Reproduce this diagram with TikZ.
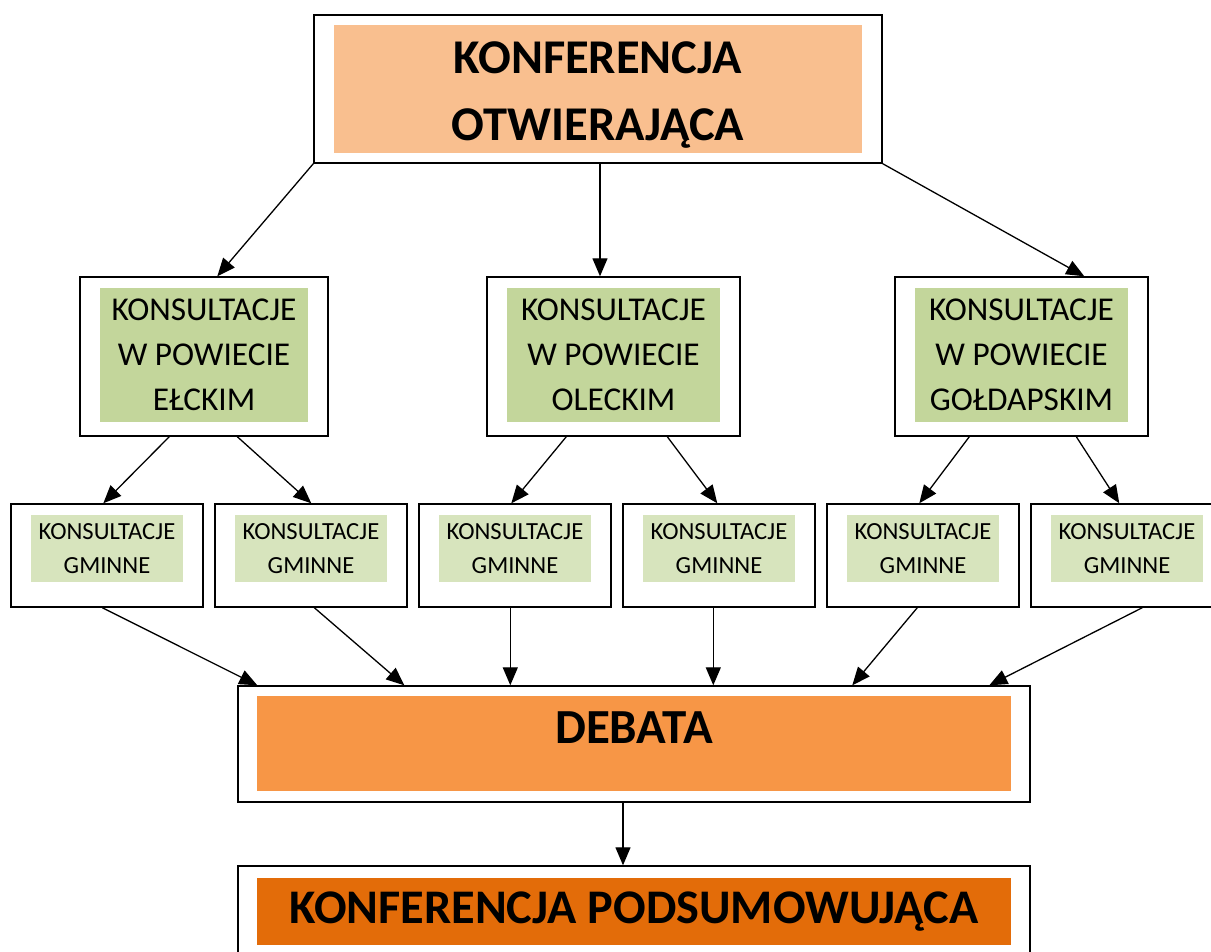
\documentclass[tikz,border=0pt]{standalone}
\usepackage{fontspec}
\setmainfont{Carlito}
\usetikzlibrary{arrows.meta}

\definecolor{topfill}{HTML}{F9BF8F}
\definecolor{powiatfill}{HTML}{C3D69B}
\definecolor{gminafill}{HTML}{D7E4BD}
\definecolor{debatafill}{HTML}{F79646}
\definecolor{finalfill}{HTML}{E36C09}

\tikzset{
    frame/.style={draw, line width=1.4pt, inner sep=0pt},
    powiat/.style={fill=powiatfill, inner sep=0pt, minimum height=134pt, align=center,
        font=\fontsize{33.3}{45}\selectfont},
    gmina/.style={fill=gminafill, inner sep=0pt, minimum width=152pt, minimum height=67pt,
        align=center, font=\fontsize{24.6}{34}\selectfont},
    link/.style={-{Triangle[length=18pt,width=15pt]}, line width=1.3pt}
}

\begin{document}
\begin{tikzpicture}[x=1pt,y=-1pt]
        \useasboundingbox (0,0) rectangle (1211,952);

        \node[frame, minimum width=568pt, minimum height=148pt] (top) at (598, 89) {};
        \node[fill=topfill, inner sep=0pt, minimum width=528pt, minimum height=128pt] (topbg) at (598, 89) {};
        \node[align=center, font=\fontsize{48.5}{67}\selectfont\bfseries] (toptxt) at (598, 95) {KONFERENCJA\\OTWIERAJĄCA};

        \node[frame, minimum width=248pt, minimum height=159pt] (elk) at (204, 356.5) {};
        \node[powiat, minimum width=208pt] (elktxt) at (204, 355) {KONSULTACJE\\W POWIECIE\\EŁCKIM};
        \node[frame, minimum width=253pt, minimum height=159pt] (ole) at (613.5, 356.5) {};
        \node[powiat, minimum width=213pt] (oletxt) at (613.5, 355) {KONSULTACJE\\W POWIECIE\\OLECKIM};
        \node[frame, minimum width=253pt, minimum height=159pt] (gol) at (1021.5, 356.5) {};
        \node[powiat, minimum width=213pt] (goltxt) at (1021.5, 355) {KONSULTACJE\\W POWIECIE\\GOŁDAPSKIM};

        \node[frame, minimum width=192pt, minimum height=103pt] (g1) at (107, 555.5) {};
        \node[gmina] (g1txt) at (107, 548.5) {KONSULTACJE\\GMINNE};
        \node[frame, minimum width=192pt, minimum height=103pt] (g2) at (311, 555.5) {};
        \node[gmina] (g2txt) at (311, 548.5) {KONSULTACJE\\GMINNE};
        \node[frame, minimum width=192pt, minimum height=103pt] (g3) at (515, 555.5) {};
        \node[gmina] (g3txt) at (515, 548.5) {KONSULTACJE\\GMINNE};
        \node[frame, minimum width=192pt, minimum height=103pt] (g4) at (719, 555.5) {};
        \node[gmina] (g4txt) at (719, 548.5) {KONSULTACJE\\GMINNE};
        \node[frame, minimum width=192pt, minimum height=103pt] (g5) at (923, 555.5) {};
        \node[gmina] (g5txt) at (923, 548.5) {KONSULTACJE\\GMINNE};
        \node[frame, minimum width=192pt, minimum height=103pt] (g6) at (1127, 555.5) {};
        \node[gmina] (g6txt) at (1127, 548.5) {KONSULTACJE\\GMINNE};

        \node[frame, minimum width=792pt, minimum height=116pt] (debata) at (634, 744) {};
        \node[fill=debatafill, minimum width=754pt, minimum height=95pt] (debatabg) at (634, 743.5) {};
        \node[font=\fontsize{49}{55}\selectfont\bfseries] (debatatxt) at (634, 728) {DEBATA};

        \node[frame, minimum width=792pt, minimum height=100pt] (final) at (634, 916) {};
        \node[fill=finalfill, inner sep=0pt, minimum width=754pt, minimum height=67pt,
            font=\fontsize{48.3}{55}\selectfont\bfseries] (finaltxt) at (634, 911.5) {KONFERENCJA PODSUMOWUJĄCA};

        \draw[link] (top.south west) -- ([xshift=138pt]elk.north west);
        \draw[link] ([xshift=2pt]top.south) -- ([xshift=2pt]top.south |- ole.north);
        \draw[link] (top.south east) -- ([xshift=190pt]gol.north west);

        \draw[link] ([xshift=90pt]elk.south west) -- ([xshift=93pt]g1.north west);
        \draw[link] ([xshift=158pt]elk.south west) -- ([xshift=97pt]g2.north west);
        \draw[link] ([xshift=80pt]ole.south west) -- ([xshift=93pt]g3.north west);
        \draw[link] ([xshift=181pt]ole.south west) -- ([xshift=95pt]g4.north west);
        \draw[link] ([xshift=75pt]gol.south west) -- ([xshift=93pt]g5.north west);
        \draw[link] ([xshift=182pt]gol.south west) -- ([xshift=89pt]g6.north west);

        \draw[link] ([xshift=92pt]g1.south west) -- ([xshift=20pt]debata.north west);
        \draw[link] ([xshift=100pt]g2.south west) -- ([xshift=167pt]debata.north west);
        \draw[link] ([xshift=92pt]g3.south west) -- ([xshift=273pt]debata.north west);
        \draw[link] ([xshift=91pt]g4.south west) -- ([xshift=476pt]debata.north west);
        \draw[link] ([xshift=91pt]g5.south west) -- ([xshift=615pt]debata.north west);
        \draw[link] ([xshift=112pt]g6.south west) -- ([xshift=752pt]debata.north west);

        \draw[link] ([xshift=-11pt]debata.south) -- ([xshift=-11pt]final.north);

\end{tikzpicture}
\end{document}
